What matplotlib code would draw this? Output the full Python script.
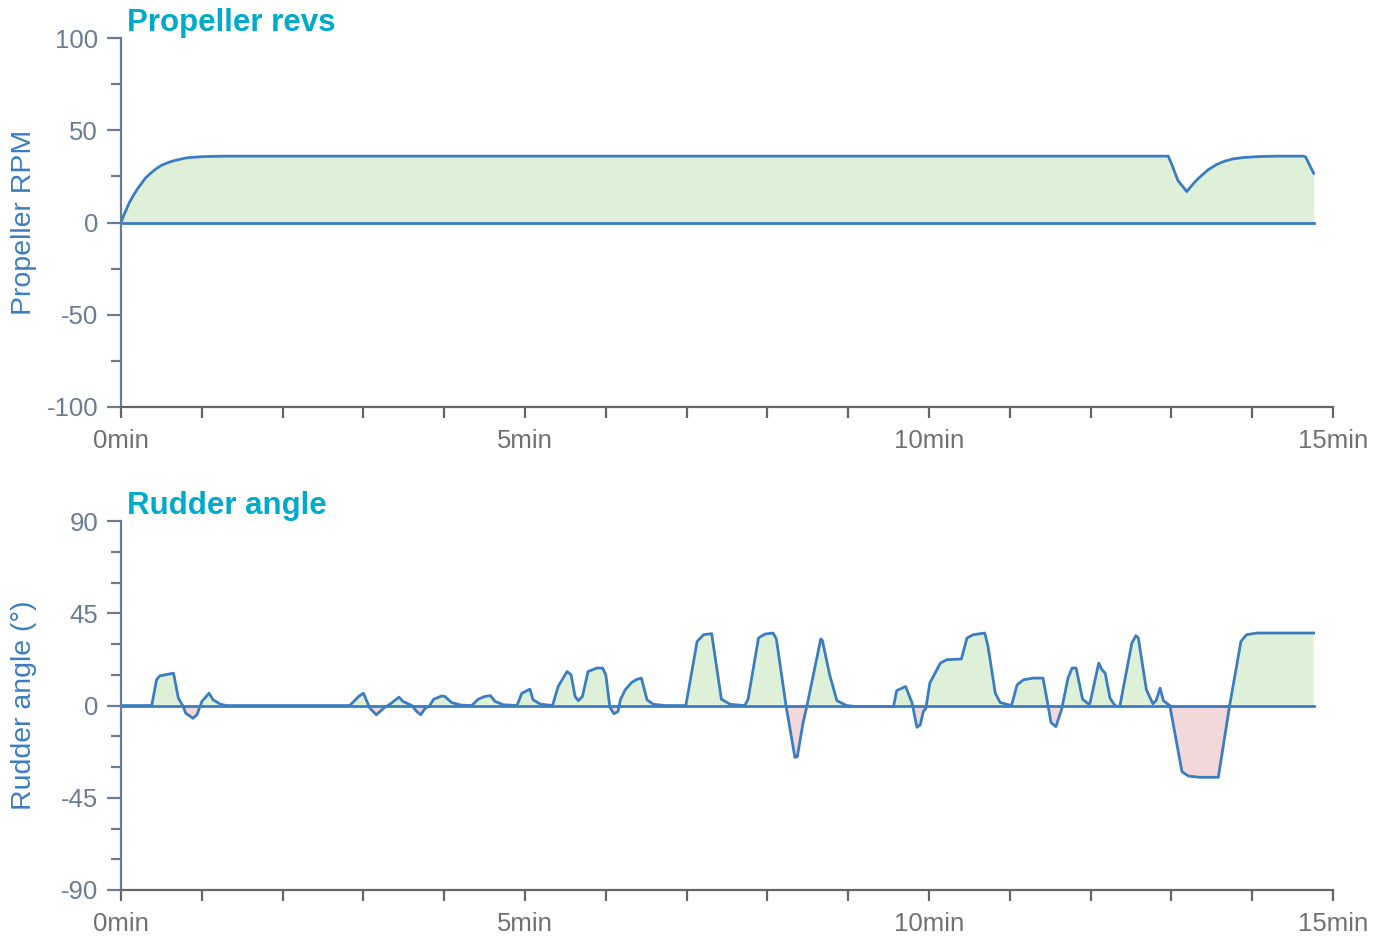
import matplotlib
matplotlib.use("Agg")
import matplotlib.pyplot as plt
import numpy as np
from matplotlib.ticker import MultipleLocator, FuncFormatter

plt.rcParams['font.family'] = ['Liberation Sans', 'DejaVu Sans']

# propeller revs (minutes, rpm)
prop_t = [0.0, 0.03, 0.07, 0.1, 0.15, 0.2, 0.25, 0.3, 0.36, 0.43, 0.5, 0.57, 0.65,
          0.73, 0.8, 0.9, 1.0, 1.15, 1.3,
          12.96, 13.0, 13.08, 13.19, 13.25, 13.3, 13.35, 13.45, 13.56, 13.66, 13.76,
          13.9, 14.1, 14.3, 14.63, 14.66, 14.76]
prop_rpm = [0.0, 3.5, 7.5, 10.5, 14.5, 18.0, 21.0, 24.0, 26.5, 29.0, 31.0, 32.3, 33.5,
            34.3, 35.0, 35.4, 35.7, 35.9, 36.0,
            36.0, 32.0, 22.8, 16.8, 20.0, 22.5, 24.6, 28.5, 31.5, 33.3, 34.5,
            35.3, 35.8, 36.0, 36.0, 35.6, 26.7]

# rudder angle (minutes, degrees)
rud_t = [0.0, 0.38, 0.44, 0.48, 0.65, 0.71, 0.77, 0.80, 0.89, 0.94, 1.0, 1.09, 1.14, 1.23, 1.3,
         2.83, 2.94, 3.0, 3.08, 3.16, 3.25, 3.33, 3.44, 3.49, 3.6, 3.66, 3.71, 3.76, 3.82,
         3.87, 3.97, 4.01, 4.09, 4.21, 4.34, 4.42, 4.5, 4.57, 4.63, 4.73, 4.9,
         4.96, 5.06, 5.1, 5.19, 5.34, 5.41, 5.52, 5.57, 5.62, 5.66, 5.71, 5.78, 5.89, 5.96,
         6.0, 6.05, 6.1, 6.15, 6.18, 6.24, 6.32, 6.38, 6.44, 6.51, 6.59, 6.74,
         6.99, 7.13, 7.21, 7.31, 7.43, 7.54, 7.72, 7.76, 7.89, 7.97, 8.07, 8.11, 8.23,
         8.34, 8.37, 8.44, 8.49, 8.66, 8.68, 8.77, 8.86, 8.98, 9.1, 9.56,
         9.6, 9.71, 9.79, 9.85, 9.89, 9.93, 9.96, 10.01, 10.14, 10.22, 10.4, 10.47, 10.55,
         10.69, 10.73, 10.82, 10.88, 11.02, 11.09, 11.17, 11.29, 11.41, 11.46, 11.51, 11.57,
         11.64, 11.72, 11.77, 11.82, 11.9, 11.97, 11.99, 12.1, 12.14, 12.18, 12.24, 12.3,
         12.36, 12.51, 12.56, 12.59, 12.69, 12.77, 12.81, 12.86, 12.9, 12.98,
         13.13, 13.21, 13.35, 13.58, 13.72, 13.86, 13.93, 14.06, 14.76]
rud_deg = [0.0, 0.0, 12.6, 14.5, 15.8, 3.6, -0.4, -3.7, -6.2, -4.5, 2.0, 6.0, 2.8, 0.7, 0.0,
           0.0, 4.4, 6.0, -1.3, -4.5, -1.3, 0.7, 4.1, 2.0, 0.0, -2.9, -4.5, -1.5, 0.0,
           3.1, 4.7, 4.4, 1.5, 0.2, 0.0, 3.1, 4.4, 4.9, 2.0, 0.4, 0.0,
           6.0, 8.0, 2.8, 0.7, 0.0, 9.3, 16.6, 15.0, 4.4, 2.4, 4.4, 16.6, 18.3, 18.3,
           15.0, -0.8, -4.0, -2.9, 2.8, 7.7, 11.3, 12.7, 13.4, 2.8, 0.6, 0.0,
           0.0, 31.3, 34.6, 35.1, 3.1, 0.6, 0.0, 3.1, 33.0, 34.9, 35.4, 32.6, 0.0,
           -25.3, -24.9, -8.6, 0.0, 32.5, 31.8, 15.0, 2.4, 0.0, -0.5, -0.5,
           7.3, 9.3, 1.3, -10.6, -9.5, -2.9, -1.5, 11.0, 20.7, 22.4, 22.7, 33.0, 34.6,
           35.4, 28.9, 6.0, 1.5, 0.0, 10.1, 12.6, 13.4, 13.4, 2.8, -8.3, -10.3,
           -2.0, 13.4, 18.3, 18.3, 3.1, 0.9, 0.9, 20.7, 17.5, 15.8, 3.6, 0.0,
           -0.6, 30.5, 34.1, 33.0, 7.7, 0.9, 2.4, 8.5, 2.4, 0.0,
           -32.3, -34.4, -35.0, -35.0, 0.0, 31.3, 34.6, 35.4, 35.4]

LINE = '#3b7dc0'
SPINE = '#6a7c93'
TICKTXT = '#6a7c93'
TITLE = '#00aacb'
POS = '#dff0d8'
NEG = '#f2d8d9'


def style_axes(ax, ymax, ymajor, yminor):
    ax.set_xlim(0, 15)
    ax.set_ylim(-ymax, ymax)
    for s in ['top', 'right']:
        ax.spines[s].set_visible(False)
    ax.spines['left'].set_color(SPINE)
    ax.spines['bottom'].set_color('#666666')
    ax.spines['left'].set_linewidth(1.6)
    ax.spines['bottom'].set_linewidth(1.6)
    ax.xaxis.set_major_locator(MultipleLocator(5))
    ax.xaxis.set_minor_locator(MultipleLocator(1))
    ax.xaxis.set_major_formatter(FuncFormatter(lambda v, p: '%dmin' % v))
    ax.yaxis.set_major_locator(MultipleLocator(ymajor))
    ax.yaxis.set_minor_locator(MultipleLocator(yminor))
    ax.yaxis.set_major_formatter(FuncFormatter(lambda v, p: '%d' % v))
    ax.tick_params(axis='x', which='both', direction='out', length=8, width=1.6,
                   color='#666666', labelcolor='#707070', labelsize=18.5, pad=8)
    ax.tick_params(axis='y', which='major', direction='out', length=10, width=1.6,
                   color=SPINE, labelcolor=TICKTXT, labelsize=18.5, pad=6.5)
    ax.tick_params(axis='y', which='minor', direction='out', length=7, width=1.6,
                   color=SPINE)


def draw_series(ax, t, v):
    t = np.array(t)
    v = np.array(v)
    ax.fill_between(t, v, 0, where=v >= 0, interpolate=True, color=POS, lw=0)
    ax.fill_between(t, v, 0, where=v <= 0, interpolate=True, color=NEG, lw=0)
    ax.plot([t[0], t[-1]], [0, 0], color=LINE, lw=2.0)
    ax.plot(t, v, color=LINE, lw=2.0)


fig = plt.figure(figsize=(13.86, 9.41), dpi=100)
ax1 = fig.add_axes([0.0873, 0.5675, 0.8745, 0.392])
ax2 = fig.add_axes([0.0873, 0.0542, 0.8745, 0.392])

draw_series(ax1, prop_t, prop_rpm)
style_axes(ax1, 100, 50, 25)
ax1.set_ylabel('Propeller RPM', color=LINE, fontsize=20.5)
ax1.yaxis.set_label_coords(-0.069, 0.5)
ax1.text(0.005, 1.0, 'Propeller revs', transform=ax1.transAxes, color=TITLE,
         fontsize=22.5, fontweight='bold', va='bottom', ha='left')

draw_series(ax2, rud_t, rud_deg)
style_axes(ax2, 90, 45, 15)
ax2.set_ylabel('Rudder angle (°)', color=LINE, fontsize=20.5)
ax2.yaxis.set_label_coords(-0.069, 0.5)
ax2.text(0.005, 1.0, 'Rudder angle', transform=ax2.transAxes, color=TITLE,
         fontsize=22.5, fontweight='bold', va='bottom', ha='left')

fig.savefig('out.png', dpi=100)
